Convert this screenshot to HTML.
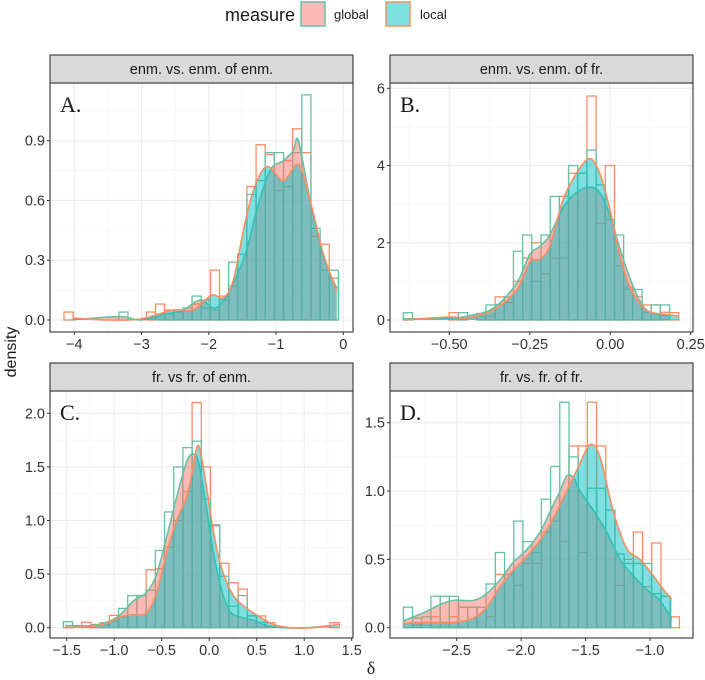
<!DOCTYPE html>
<html><head><meta charset="utf-8"><style>
body{margin:0;background:#fff;}
svg{display:block;font-family:"Liberation Sans",sans-serif;}
</style></head><body>
<svg id="chart" width="705" height="680" viewBox="0 0 705 680">
<g>
<text x="225" y="21" font-size="18" fill="#1a1a1a">measure</text>
<rect x="301" y="2" width="24" height="24" fill="#FBBAB6" stroke="#66C2A5" stroke-width="1.5"/>
<text x="334" y="19" font-size="13" fill="#1a1a1a">global</text>
<rect x="386" y="2" width="24" height="24" fill="#7FDFE1" stroke="#FC8D62" stroke-width="1.5"/>
<text x="420" y="19" font-size="13" fill="#1a1a1a">local</text>
</g>
<text transform="translate(16,352) rotate(-90)" text-anchor="middle" font-size="16" fill="#1a1a1a">density</text>
<text x="371" y="674" text-anchor="middle" font-size="18" font-family="Liberation Serif,serif" fill="#1a1a1a">δ</text>
</svg>
<script>
// Panel A
const aTitle = "enm. vs. enm. of enm.";
const aBinStart = -4.153, aBinWidth = 0.136;
const aHistLocal = [0.04,0,0,0,0,0,0,0,0,0.04,0.08,0.05,0.04,0.045,0.08,0.1,0.25,0.12,0.17,0.33,0.67,0.88,0.83,0.65,0.8,0.96,0.84,0.42,0.38,0.21];
const aHistGlobal = [0,0,0,0,0,0,0.04,0,0,0,0.03,0.03,0.04,0.06,0.12,0.06,0.05,0.1,0.29,0.33,0.63,0.7,0.84,0.84,0.67,0.84,1.13,0.46,0.25,0.25];
const aDensLocalX = [-4.015,-3.519,-3.023,-2.527,-2.229,-1.957,-1.783,-1.634,-1.485,-1.337,-1.139,-0.891,-0.668,-0.494,-0.296,-0.098];
const aDensLocalY = [0.01,0.0,0.005,0.05,0.05,0.125,0.11,0.2,0.45,0.65,0.77,0.70,0.78,0.6,0.33,0.15];
const aDensGlobalX = [-4.064,-3.32,-3.023,-2.627,-2.379,-2.131,-1.908,-1.734,-1.585,-1.437,-1.288,-1.09,-0.891,-0.743,-0.668,-0.494,-0.296,-0.098];
const aDensGlobalY = [0.0,0.017,0.0,0.03,0.05,0.1,0.06,0.12,0.22,0.35,0.55,0.75,0.8,0.85,0.9,0.6,0.32,0.16];
const aXTicks = [-4,-3,-2,-1,0], aXLabels = ["−4","−3","−2","−1","0"];
const aYTicks = [0,0.3,0.6,0.9], aYLabels = ["0.0","0.3","0.6","0.9"];
// Panel B
const bTitle = "enm. vs. enm. of fr.";
const bBinStart = -0.643, bBinWidth = 0.02853;
const bHistLocal = [0,0,0,0,0,0.19,0,0,0.17,0.1,0.6,0.45,1.0,1.6,2.0,1.2,1.6,3.2,3.8,3.8,5.8,2.5,4.0,1.4,0.85,0.6,0.39,0.39,0.2,0.19];
const bHistGlobal = [0.19,0,0,0,0,0,0.19,0,0.1,0.39,0.4,0.6,1.78,2.2,1.0,2.2,3.2,1.6,4.0,3.8,4.4,3.5,2.6,2.2,0.8,0.79,0.2,0.39,0.39,0];
const bDensLocalX = [-0.643,-0.498,-0.446,-0.364,-0.291,-0.25,-0.219,-0.188,-0.147,-0.105,-0.064,-0.033,-0.002,0.029,0.06,0.091,0.122,0.184,0.213];
const bDensLocalY = [0.0,0.08,0.05,0.25,0.77,1.5,1.58,1.9,3.1,3.8,4.18,3.8,2.9,1.7,0.86,0.43,0.21,0.13,0.1];
const bDensGlobalX = [-0.643,-0.498,-0.446,-0.364,-0.291,-0.25,-0.219,-0.188,-0.147,-0.105,-0.064,-0.033,-0.002,0.029,0.06,0.091,0.122,0.184];
const bDensGlobalY = [0.03,0.05,0.1,0.3,0.95,1.7,1.9,2.2,2.9,3.3,3.44,3.3,2.74,1.88,1.11,0.51,0.21,0.1];
const bXTicks = [-0.5,-0.25,0,0.25], bXLabels = ["−0.50","−0.25","0.00","0.25"];
const bYTicks = [0,2,4,6], bYLabels = ["0","2","4","6"];
// Panel C
const cTitle = "fr. vs fr. of enm.";
const cBinStart = -1.535, cBinWidth = 0.0968;
const cHistLocal = [0,0,0.05,0.03,0.047,0.115,0.1,0.12,0.3,0.54,0.55,0.75,1.0,1.27,2.1,1.5,0.95,0.6,0.42,0.36,0.11,0.11,0.047,0,0,0,0,0,0,0.047];
const cHistGlobal = [0.056,0,0,0,0.03,0.06,0.18,0.3,0.3,0.35,0.72,1.08,1.5,1.68,1.74,1.2,0.96,0.48,0.2,0.3,0.11,0.05,0,0,0,0,0,0,0,0];
const cDensLocalX = [-1.518,-1.254,-1.079,-0.939,-0.798,-0.658,-0.553,-0.447,-0.342,-0.237,-0.167,-0.114,-0.044,0.044,0.132,0.254,0.395,0.535,0.675,0.851,1.096,1.36];
const cDensLocalY = [0.0,0.01,0.04,0.1,0.12,0.14,0.33,0.7,1.0,1.22,1.5,1.7,1.4,0.9,0.55,0.3,0.18,0.1,0.03,0.0,0.0,0.03];
const cDensGlobalX = [-1.518,-1.254,-1.079,-0.939,-0.798,-0.658,-0.553,-0.447,-0.342,-0.237,-0.167,-0.114,-0.044,0.044,0.132,0.219,0.325,0.465,0.605,0.746,1.026,1.272];
const cDensGlobalY = [0.02,0.02,0.05,0.12,0.25,0.33,0.5,0.85,1.22,1.55,1.62,1.55,1.2,0.7,0.35,0.15,0.1,0.07,0.02,0.0,0.0,0.02];
const cXTicks = [-1.5,-1,-0.5,0,0.5,1,1.5], cXLabels = ["−1.5","−1.0","−0.5","0.0","0.5","1.0","1.5"];
const cYTicks = [0,0.5,1,1.5,2], cYLabels = ["0.0","0.5","1.0","1.5","2.0"];
// Panel D
const dTitle = "fr. vs. fr. of fr.";
const dBinStart = -2.914, dBinWidth = 0.0714;
const dHistLocal = [0,0.02,0,0.08,0.04,0.08,0.15,0.15,0.15,0.08,0.39,0.39,0.31,0.47,0.47,0.7,0.78,0.63,1.33,1.33,1.65,1.33,0.86,0.31,0.5,0.7,0.3,0.62,0.23,0.08];
const dHistGlobal = [0.15,0.07,0.08,0.23,0.23,0.23,0.15,0.15,0.15,0.32,0.55,0.39,0.78,0.63,0.55,0.94,1.18,1.65,1.25,0.55,1.02,1.02,0.86,0.54,0.47,0.47,0.47,0.25,0.23,0];
const dDensLocalX = [-2.914,-2.733,-2.526,-2.371,-2.267,-2.164,-2.06,-1.957,-1.853,-1.75,-1.647,-1.543,-1.466,-1.388,-1.285,-1.181,-1.078,-0.974,-0.897,-0.832];
const dDensLocalY = [0.03,0.04,0.04,0.07,0.15,0.3,0.42,0.52,0.64,0.8,1.0,1.2,1.34,1.25,0.85,0.58,0.5,0.38,0.28,0.21];
const dDensGlobalX = [-2.914,-2.733,-2.629,-2.526,-2.371,-2.267,-2.164,-2.06,-1.957,-1.853,-1.75,-1.698,-1.647,-1.595,-1.543,-1.44,-1.336,-1.233,-1.129,-1.026,-0.923,-0.832];
const dDensGlobalY = [0.05,0.12,0.17,0.2,0.2,0.25,0.35,0.48,0.57,0.7,0.9,1.0,1.11,1.1,1.0,0.86,0.7,0.5,0.38,0.28,0.2,0.06];
const dXTicks = [-2.5,-2,-1.5,-1], dXLabels = ["−2.5","−2.0","−1.5","−1.0"];
const dYTicks = [0,0.5,1,1.5], dYLabels = ["0.0","0.5","1.0","1.5"];

const NS = "http://www.w3.org/2000/svg";
const svg = document.getElementById('chart');
function mk(tag, attrs, parent){const e=document.createElementNS(NS,tag);for(const k in attrs)e.setAttribute(k,attrs[k]);parent.appendChild(e);return e;}
function smooth(pts){
  let d="M"+pts[0][0].toFixed(2)+","+pts[0][1].toFixed(2);
  for(let i=0;i<pts.length-1;i++){
    const p0=pts[Math.max(0,i-1)],p1=pts[i],p2=pts[i+1],p3=pts[Math.min(pts.length-1,i+2)];
    const c1x=p1[0]+(p2[0]-p0[0])/6,c1y=p1[1]+(p2[1]-p0[1])/6;
    const c2x=p2[0]-(p3[0]-p1[0])/6,c2y=p2[1]-(p3[1]-p1[1])/6;
    d+=" C"+c1x.toFixed(2)+","+c1y.toFixed(2)+" "+c2x.toFixed(2)+","+c2y.toFixed(2)+" "+p2[0].toFixed(2)+","+p2[1].toFixed(2);
  }
  return d;
}
function panel(cfg){
  const g=mk('g',{},svg);
  
  
  const L=cfg.left,R=cfg.right,T=cfg.top,B=cfg.bottom;
  const sx=v=>cfg.x0px+(v-cfg.x0)*(cfg.x1px-cfg.x0px)/(cfg.x1-cfg.x0);
  const sy=v=>cfg.y0px+(v-cfg.y0)*(cfg.y1px-cfg.y0px)/(cfg.y1-cfg.y0);
  mk('rect',{x:L,y:T,width:R-L,height:B-T,fill:'#fff'},g);
  for(let i=0;i<cfg.xt.length-1;i++){const v=(cfg.xt[i]+cfg.xt[i+1])/2;mk('line',{x1:sx(v),x2:sx(v),y1:T,y2:B,stroke:'#F2F2F2','stroke-width':0.6},g);}
  const xs=cfg.xt[1]-cfg.xt[0];
  [cfg.xt[0]-xs/2,cfg.xt[cfg.xt.length-1]+xs/2].forEach(v=>{const p=sx(v);if(p>L&&p<R)mk('line',{x1:p,x2:p,y1:T,y2:B,stroke:'#F2F2F2','stroke-width':0.6},g);});
  const ys=cfg.yt[1]-cfg.yt[0];
  for(let i=0;i<cfg.yt.length;i++){const v=cfg.yt[i]+ys/2;const p=sy(v);if(p>T&&p<B)mk('line',{x1:L,x2:R,y1:p,y2:p,stroke:'#F2F2F2','stroke-width':0.6},g);}
  cfg.xt.forEach(v=>mk('line',{x1:sx(v),x2:sx(v),y1:T,y2:B,stroke:'#EBEBEB','stroke-width':1.1},g));
  cfg.yt.forEach(v=>mk('line',{x1:L,x2:R,y1:sy(v),y2:sy(v),stroke:'#EBEBEB','stroke-width':1.1},g));
  [['local',cfg.hLocal,'#FC8D62'],['global',cfg.hGlobal,'#66C2A5']].forEach(([nm,arr,col])=>{
    arr.forEach((v,i)=>{
      if(v<=0)return;
      const x0=sx(cfg.bs+i*cfg.bw),x1=sx(cfg.bs+(i+1)*cfg.bw);
      const r=mk('rect',{x:x0,y:sy(v),width:x1-x0,height:sy(0)-sy(v),fill:'none',stroke:col,'stroke-width':1.3},g);
      
      
    });
  });
  [['global',cfg.dgX,cfg.dgY,'#F8766D','#66C2A5'],['local',cfg.dlX,cfg.dlY,'#00BFC4','#FC8D62']].forEach(([nm,X,Y,fill,col])=>{
    const pts=X.map((x,i)=>[sx(x),sy(Y[i])]);
    const line=smooth(pts);
    const a=mk('path',{d:line+" L"+pts[pts.length-1][0]+","+sy(0)+" L"+pts[0][0]+","+sy(0)+" Z",fill:fill,'fill-opacity':0.5,stroke:'none'},g);
    
    
    const l=mk('path',{d:line,fill:'none',stroke:col,'stroke-width':1.6},g);
    
    
  });
  mk('rect',{x:L,y:T,width:R-L,height:B-T,fill:'none',stroke:'#333','stroke-width':1.1},g);
  const s=mk('rect',{x:L,y:T-28,width:R-L,height:28,fill:'#D9D9D9',stroke:'#333','stroke-width':1.1},g);
  
  
  const st=mk('text',{x:(L+R)/2,y:T-9,'text-anchor':'middle','font-size':14.5,fill:'#1a1a1a'},g);
  st.textContent=cfg.title;
  
  
  const pl=mk('text',{x:L+10,y:T+29,'font-size':22,'font-family':'Liberation Serif,serif',fill:'#1a1a1a'},g);
  pl.textContent=cfg.id+".";
  
  
  cfg.xt.forEach((v,i)=>{
    mk('line',{x1:sx(v),x2:sx(v),y1:B,y2:B+3,stroke:'#333','stroke-width':1},g);
    const t=mk('text',{x:sx(v),y:B+17,'text-anchor':'middle','font-size':14.5,fill:'#333'},g);
    t.textContent=cfg.xl[i];
    
    
  });
  cfg.yt.forEach((v,i)=>{
    mk('line',{x1:L-3,x2:L,y1:sy(v),y2:sy(v),stroke:'#333','stroke-width':1},g);
    const t=mk('text',{x:L-5,y:sy(v)+5,'text-anchor':'end','font-size':14.5,fill:'#333'},g);
    t.textContent=cfg.yl[i];
    
    
  });
}
panel({id:'A',title:aTitle,left:50,right:353,top:83,bottom:332,x0:-4,x1:0,x0px:74.3,x1px:343.3,y0:0,y1:0.9,y0px:320,y1px:140.7,
  xt:aXTicks,xl:aXLabels,yt:aYTicks,yl:aYLabels,bs:aBinStart,bw:aBinWidth,hLocal:aHistLocal,hGlobal:aHistGlobal,dlX:aDensLocalX,dlY:aDensLocalY,dgX:aDensGlobalX,dgY:aDensGlobalY});
panel({id:'B',title:bTitle,left:390,right:693,top:83,bottom:332,x0:-0.5,x1:0.25,x0px:449.3,x1px:690.7,y0:0,y1:6,y0px:320,y1px:88.3,
  xt:bXTicks,xl:bXLabels,yt:bYTicks,yl:bYLabels,bs:bBinStart,bw:bBinWidth,hLocal:bHistLocal,hGlobal:bHistGlobal,dlX:bDensLocalX,dlY:bDensLocalY,dgX:bDensGlobalX,dgY:bDensGlobalY});
panel({id:'C',title:cTitle,left:50,right:353,top:391,bottom:638,x0:-1.5,x1:1.5,x0px:66.7,x1px:351.7,y0:0,y1:2,y0px:627.7,y1px:413.3,
  xt:cXTicks,xl:cXLabels,yt:cYTicks,yl:cYLabels,bs:cBinStart,bw:cBinWidth,hLocal:cHistLocal,hGlobal:cHistGlobal,dlX:cDensLocalX,dlY:cDensLocalY,dgX:cDensGlobalX,dgY:cDensGlobalY});
panel({id:'D',title:dTitle,left:390,right:693,top:391,bottom:638,x0:-2.5,x1:-1,x0px:456.7,x1px:650,y0:0,y1:1.5,y0px:627.7,y1px:422.7,
  xt:dXTicks,xl:dXLabels,yt:dYTicks,yl:dYLabels,bs:dBinStart,bw:dBinWidth,hLocal:dHistLocal,hGlobal:dHistGlobal,dlX:dDensLocalX,dlY:dDensLocalY,dgX:dDensGlobalX,dgY:dDensGlobalY});
</script>
</body></html>
